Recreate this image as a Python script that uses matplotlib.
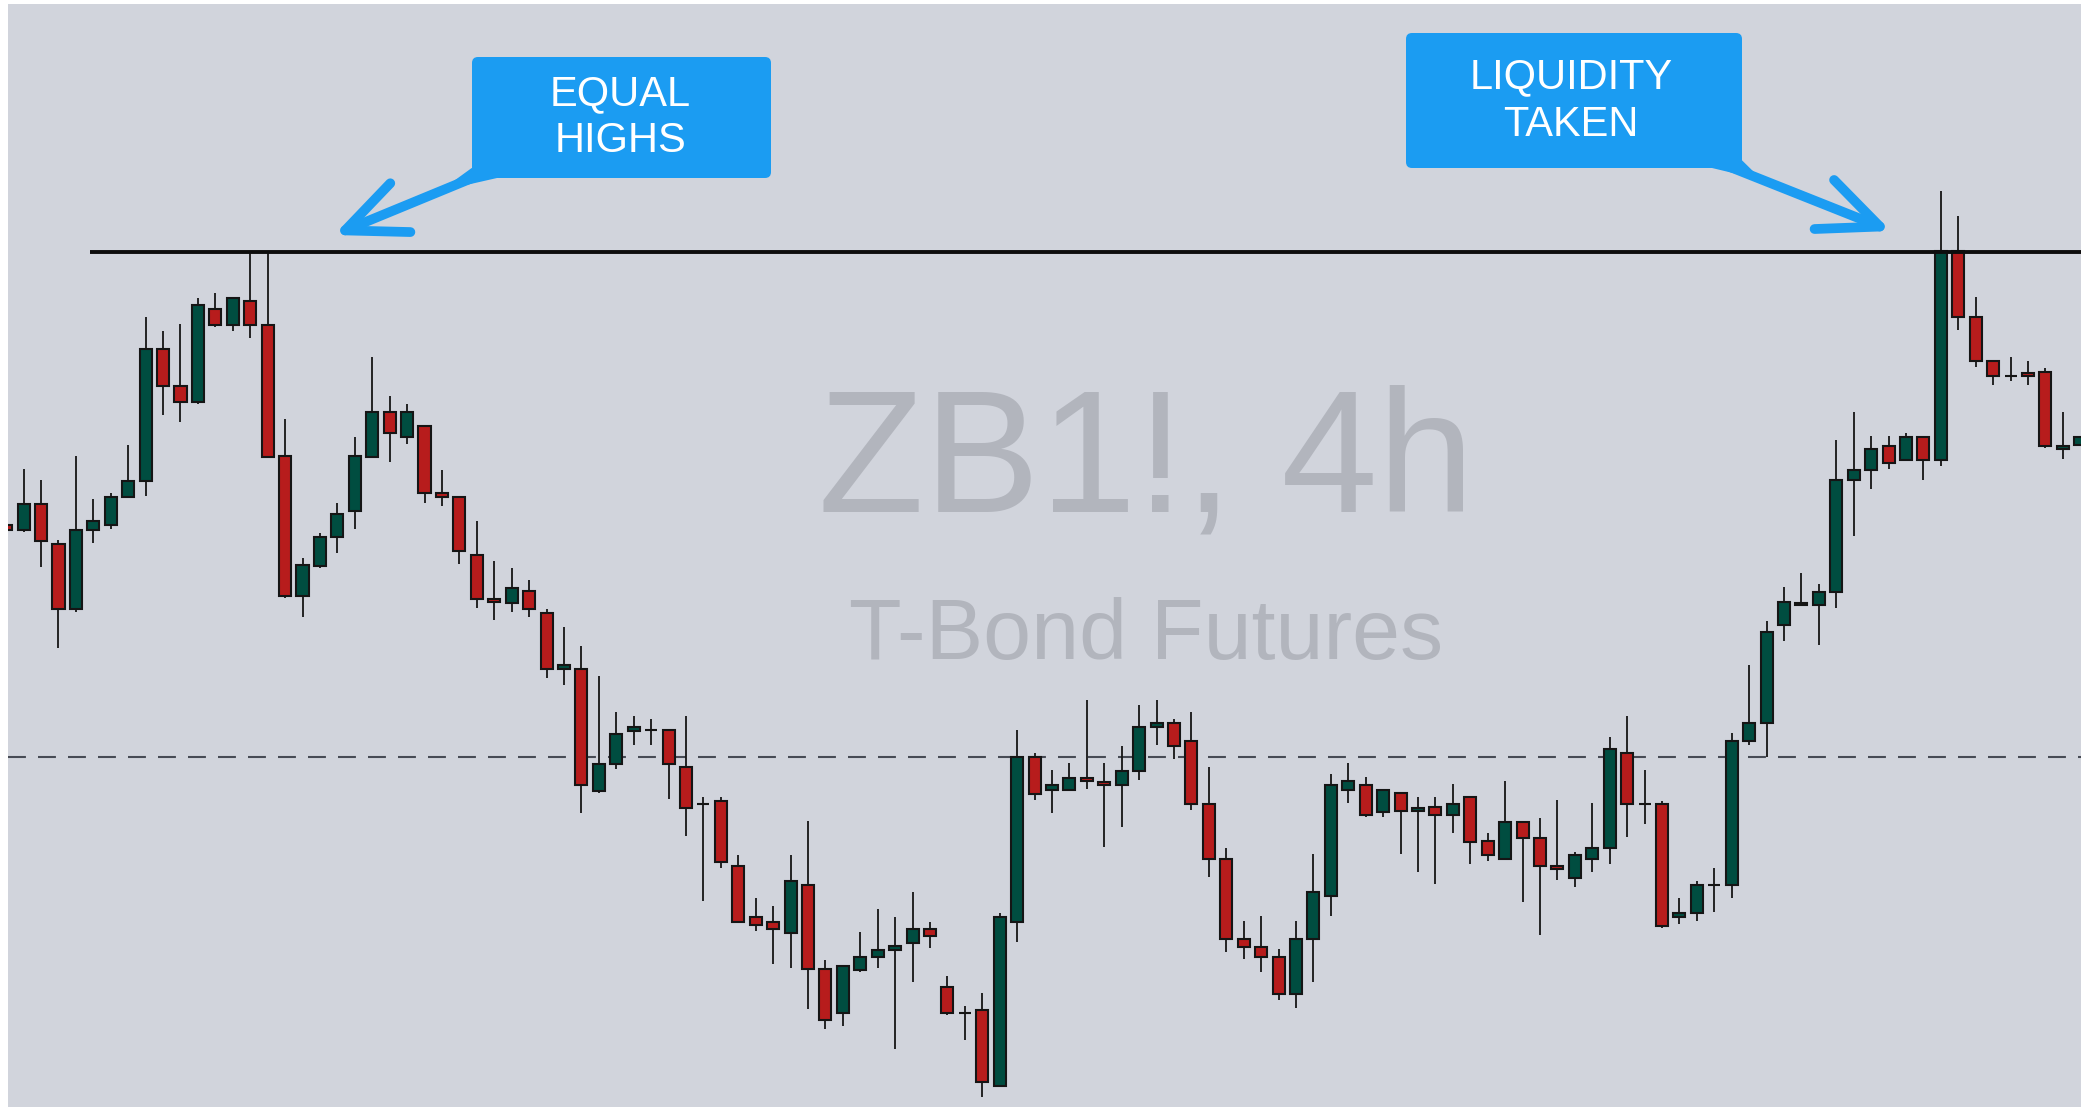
import matplotlib
matplotlib.use('Agg')
from matplotlib import pyplot as plt
from matplotlib.patches import FancyBboxPatch, FancyArrowPatch, Polygon

# 4h candles (oldest first)
opens = [124.75, 124.70, 124.96, 124.56, 123.91, 124.70, 124.75, 125.03, 125.19, 126.51,
         126.14, 125.98, 126.91, 126.75, 126.99, 126.75, 125.44, 124.04, 124.34, 124.63,
         124.89, 125.43, 125.88, 125.63, 125.74, 125.07, 125.03, 124.45, 124.01, 123.97,
         124.09, 123.87, 123.31, 123.31, 122.09, 122.36, 122.69, 122.70, 122.70, 122.33,
         121.96, 121.99, 121.34, 120.83, 120.78, 120.67, 121.15, 120.31, 119.87, 120.30,
         120.43, 120.50, 120.57, 120.71, 120.13, 119.87, 119.90, 119.14, 120.78, 122.43,
         122.10, 122.10, 122.22, 122.18, 122.15, 122.29, 122.73, 122.77, 122.59, 121.96,
         121.41, 120.61, 120.53, 120.43, 120.06, 120.61, 121.04, 122.10, 122.15, 121.88,
         122.07, 121.89, 121.93, 121.85, 122.03, 121.59, 121.41, 121.78, 121.62, 121.34,
         121.22, 121.41, 121.52, 122.47, 121.96, 121.96, 120.83, 120.87, 121.15, 121.15,
         122.59, 122.77, 123.75, 123.97, 123.95, 124.08, 125.20, 125.30, 125.54, 125.40,
         125.63, 125.40, 127.49, 126.83, 126.39, 126.24, 126.27, 126.28, 125.51, 125.55]
highs = [124.77, 125.31, 125.20, 124.60, 125.44, 125.01, 125.07, 125.55, 126.83, 126.69,
         126.76, 127.02, 127.07, 127.02, 127.48, 127.48, 125.81, 124.42, 124.67, 124.97,
         125.63, 126.43, 126.04, 125.96, 125.74, 125.30, 125.03, 124.79, 124.39, 124.32,
         124.20, 123.91, 123.73, 123.54, 123.24, 122.88, 122.84, 122.81, 122.70, 122.84,
         122.03, 122.03, 121.45, 121.02, 120.94, 121.45, 121.79, 120.40, 120.34, 120.68,
         120.91, 120.83, 121.08, 120.78, 120.24, 119.94, 120.07, 120.87, 122.70, 122.47,
         122.30, 122.37, 123.00, 122.37, 122.54, 122.95, 123.00, 122.81, 122.88, 122.33,
         121.52, 120.79, 120.84, 120.51, 120.79, 121.46, 122.26, 122.37, 122.23, 122.10,
         122.07, 122.03, 122.03, 122.16, 122.03, 121.67, 122.19, 121.78, 121.82, 122.00,
         121.48, 121.97, 122.63, 122.84, 122.30, 121.99, 121.02, 121.19, 121.32, 122.67,
         123.35, 123.79, 124.13, 124.27, 124.16, 125.60, 125.88, 125.64, 125.64, 125.67,
         125.63, 128.09, 127.84, 127.03, 126.39, 126.43, 126.39, 126.32, 125.88, 125.63]
lows = [124.68, 124.68, 124.33, 123.52, 123.88, 124.57, 124.71, 125.03, 125.04, 125.85,
        125.78, 125.96, 126.73, 126.69, 126.62, 125.43, 124.02, 123.83, 124.32, 124.47,
        124.71, 125.43, 125.38, 125.56, 124.97, 124.94, 124.36, 123.92, 123.80, 123.88,
        123.83, 123.22, 123.15, 121.87, 122.07, 122.31, 122.55, 122.55, 122.01, 121.64,
        120.99, 121.32, 120.78, 120.69, 120.36, 120.32, 119.91, 119.71, 119.74, 120.28,
        120.32, 119.51, 120.18, 120.52, 119.85, 119.60, 119.03, 119.13, 120.58, 122.00,
        121.87, 122.10, 122.11, 121.53, 121.73, 122.20, 122.55, 122.41, 121.90, 121.23,
        120.48, 120.41, 120.28, 120.00, 119.92, 120.18, 120.84, 121.97, 121.83, 121.83,
        121.46, 121.28, 121.16, 121.67, 121.36, 121.39, 121.41, 120.98, 120.65, 121.20,
        121.13, 121.28, 121.36, 121.63, 121.76, 120.72, 120.76, 120.79, 120.88, 121.02,
        122.55, 122.43, 123.59, 123.95, 123.55, 123.92, 124.64, 125.11, 125.31, 125.40,
        125.20, 125.34, 126.70, 126.33, 126.15, 126.19, 126.15, 125.52, 125.41, 125.55]
closes = [124.70, 124.96, 124.59, 123.91, 124.70, 124.79, 125.03, 125.19, 126.51, 126.14,
          125.98, 126.95, 126.75, 127.02, 126.75, 125.43, 124.04, 124.35, 124.63, 124.86,
          125.44, 125.88, 125.67, 125.88, 125.07, 125.03, 124.49, 124.01, 123.98, 124.12,
          123.91, 123.31, 123.35, 122.15, 122.36, 122.66, 122.73, 122.70, 122.36, 121.92,
          121.96, 121.38, 120.78, 120.75, 120.71, 121.19, 120.31, 119.80, 120.34, 120.43,
          120.50, 120.54, 120.71, 120.64, 119.87, 119.87, 119.18, 120.83, 122.43, 122.06,
          122.15, 122.22, 122.19, 122.15, 122.29, 122.73, 122.77, 122.54, 121.96, 121.41,
          120.61, 120.53, 120.43, 120.06, 120.61, 121.08, 122.15, 122.19, 121.85, 122.10,
          121.89, 121.92, 121.85, 121.96, 121.58, 121.45, 121.78, 121.62, 121.34, 121.31,
          121.45, 121.52, 122.51, 121.96, 121.96, 120.74, 120.87, 121.15, 121.15, 122.59,
          122.77, 123.68, 123.98, 123.95, 124.08, 125.20, 125.30, 125.51, 125.37, 125.63,
          125.40, 127.49, 126.83, 126.39, 126.24, 126.24, 126.24, 125.54, 125.54, 125.63]

equal_highs_level = 127.48
mid_level = 122.43
level_start = 4.8  # bar where the equal-highs line begins

symbol = 'ZB1!, 4h'
description = 'T-Bond Futures'
left_label = ['EQUAL', 'HIGHS']
right_label = ['LIQUIDITY', 'TAKEN']

BG = '#d1d4dc'
UP = '#004d40'
DOWN = '#b71c1c'
BLUE = '#1b9cf2'
INK = '#151515'
FONT = ['Liberation Sans', 'DejaVu Sans']


class CandleChart:

    def __init__(self):
        self.fig = plt.figure(figsize=(20.81, 11.07), dpi=100, facecolor='white')
        self.ax = self.fig.add_axes([8 / 2081, 0, 2073 / 2081, 1103 / 1107])
        self.create_chart()

    def create_chart(self):
        ax = self.ax
        fig = self.fig
        inch = fig.dpi_scale_trans
        ax.set_facecolor(BG)

        xs = list(range(len(opens)))
        bottoms = [min(o, c) for o, c in zip(opens, closes)]
        heights = [abs(c - o) for o, c in zip(opens, closes)]
        colors = [UP if c >= o else DOWN for o, c in zip(opens, closes)]

        # wicks, then bodies on top
        ax.vlines(xs, lows, highs, color=INK, lw=1.3, zorder=2)
        ax.bar(xs, heights, 0.69, bottoms, color=colors, edgecolor=INK,
               linewidth=1.5, zorder=3)

        # levels
        ax.hlines(equal_highs_level, level_start, len(opens) + 1,
                  color='#0d0d0d', lw=2.8, zorder=4)
        ax.axhline(mid_level, color='#474b55', lw=1.5, dashes=(8.6, 5.8),
                   zorder=1)

        ax.set_xlim(0.103, 119.04)
        ax.set_ylim(118.93, 129.96)
        ax.set_xticks([])
        ax.set_yticks([])
        for s in ax.spines.values():
            s.set_visible(False)

        # watermark
        ax.text(11.46, 5.95, symbol, transform=inch, ha='center', va='baseline',
                fontsize=125, color='#b2b5bd', family=FONT, zorder=0.5)
        ax.text(11.46, 4.48, description, transform=inch, ha='center',
                va='baseline', fontsize=62, color='#b2b5bd', family=FONT,
                zorder=0.5)

        # callouts
        self.callout((4.72, 9.29, 2.99, 1.21), 6.20, (10.02, 9.55), left_label,
                     (4.82, 9.33), (3.34, 8.72),
                     [(4.717, 9.39), (4.97, 9.29), (4.40, 9.16)])
        self.callout((14.06, 9.39, 3.36, 1.35), 15.71, (10.19, 9.71), right_label,
                     (17.30, 9.40), (18.91, 8.76),
                     [(17.417, 9.47), (17.12, 9.39), (17.62, 9.27)])

        fig.savefig('out.png', dpi=100, facecolor=fig.get_facecolor())

    def callout(self, box, text_x, baselines, lines, tail, tip, wedge):
        fig = self.fig
        inch = fig.dpi_scale_trans
        x0, y0, w, h = box
        fig.add_artist(FancyArrowPatch(
            tail, tip, transform=inch,
            arrowstyle='->,head_length=43,head_width=19', mutation_scale=1,
            lw=7, color=BLUE, capstyle='round', joinstyle='round',
            shrinkA=0, shrinkB=0, zorder=5))
        # the pointer widens where it leaves the box
        fig.add_artist(Polygon(wedge, closed=True, transform=inch, fc=BLUE,
                               ec='none', zorder=5))
        fig.add_artist(FancyBboxPatch(
            (x0, y0), w, h, boxstyle='round,pad=0,rounding_size=0.06',
            transform=inch, fc=BLUE, ec='none', zorder=6))
        for line, base in zip(lines, baselines):
            fig.text(text_x, base, line, transform=inch, ha='center',
                     va='baseline', fontsize=30, color='white', family=FONT,
                     zorder=7)


if __name__ == "__main__":
    chart = CandleChart()
